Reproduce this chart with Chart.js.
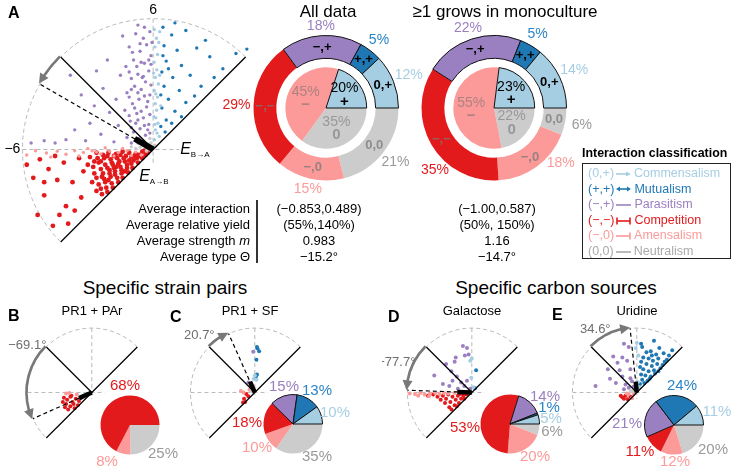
<!DOCTYPE html>
<html>
<head>
<meta charset="utf-8">
<script src="https://cdn.jsdelivr.net/npm/chart.js@4.4.1/dist/chart.umd.min.js"></script>
<style>
  body { margin: 0; background: #fff; font-family: 'Liberation Sans', Arial, sans-serif; color: #000; }
  #page { position: relative; width: 733px; height: 469px; overflow: hidden; }
  canvas { position: absolute; }
  .t { position: absolute; white-space: nowrap; line-height: 1; }
  #legend { position: absolute; left: 582px; top: 163px; width: 147px; height: 94px; border: 1.3px solid #222; }
  .row { position: absolute; left: 5px; font-size: 12.5px; white-space: nowrap; line-height: 1; }
  .row svg { display: inline-block; vertical-align: middle; margin: 0 3px 0 2px; }
</style>
</head>
<body>
<div id="page"></div>
<script>
// ---- data ----
const classCodes = ['(0,+)', '(+,+)', '(\u2212,+)', '(\u2212,\u2212)', '(\u2212,0)', '(0,0)'];
const classNames = ['Commensalism', 'Mutualism', 'Parasitism', 'Competition', 'Amensalism', 'Neutralism'];

// ring order (clockwise from 3 o'clock): 0,0 / -,0 / -,- / -,+ / +,+ / 0,+
const ringLabels = ['0,0', '\u2212,0', '\u2212,\u2212', '\u2212,+', '+,+', '0,+'];
const allDataRing = [21, 15, 29, 18, 5, 12];
const monoRing = [6, 18, 35, 22, 5, 14];
const pieLabels = ['0', '\u2212', '+'];
const allDataPie = [35, 45, 20];
const monoPie = [22, 55, 23];

const statNames = ['Average interaction', 'Average relative yield', 'Average strength <i>m</i>', 'Average type \u0398'];
const allDataStats = ['(\u22120.853,0.489)', '(55%,140%)', '0.983', '\u221215.2\u00b0'];
const monoStats = ['(\u22121.00,0.587)', '(50%, 150%)', '1.16', '\u221214.7\u00b0'];

// small pies, same order as ring
const pairPAr = [25, 8, 68, 0, 0, 0];
const pairSF = [35, 10, 18, 15, 13, 10];
const galactose = [6, 20, 53, 14, 1, 5];
const uridine = [20, 12, 11, 21, 24, 11];

// mean vectors: direction (deg) and strength
const meanAngles = { A: 150, B: 204, C: 114, D: 178, E: 96 };
const meanLengths = { A: 0.983, B: 1.3, C: 1.1, D: 1.35, E: 1.0 };
const thetaLabels = { A: '', B: '\u221269.1\u00b0', C: '20.7\u00b0', D: '\u221277.7\u00b0', E: '34.6\u00b0' };

// panel A points (E_B->A, E_A->B)
const aPurple = [[-0.15,5.4],[-0.45,5.1],[-0.8,5.3],[-0.3,4.8],[-1.1,4.7],[-0.6,4.5],[-0.1,4.3],[-0.9,4.1],[-0.4,3.95],[-1.25,3.8],[-0.2,3.6],[-0.7,3.45],[-1.0,3.25],[-0.35,3.1],[-0.85,2.9],[-0.55,2.75],[-1.2,2.6],[-0.15,2.5],[-0.65,2.3],[-0.95,2.1],[-0.3,1.95],[-1.3,1.8],[-0.75,1.65],[-0.45,1.45],[-1.05,1.3],[-0.2,1.15],[-0.6,0.95],[-0.9,0.8],[-0.35,0.65],[-1.2,0.55],[-0.55,4.0],[-0.25,2.2],[-1.5,3.4],[-1.7,2.3],[-1.6,1.1],[-2.1,4.1],[-2.3,2.8],[-2.0,1.7],[-2.7,2.0],[-2.9,1.2],[-2.4,0.7],[-3.3,2.5],[-3.6,0.9],[-3.1,0.4],[-4.0,0.45],[-4.5,0.3],[-5.0,0.4],[-5.6,0.3],[-1.8,0.35],[-1.0,0.3],[-1.4,5.2],[-3.8,3.4],[-0.7,5.7],[-2.6,3.6],[-0.5,3.3],[-0.1,3.9],[-0.8,1.2],[-1.1,2.4],[-0.4,5.6],[-0.25,0.9],
    [-0.05,4.9],[-0.6,4.85],[-0.95,4.45],[-0.2,4.1],[-0.75,3.8],[-1.1,3.55],[-0.45,3.35],[-0.1,2.95],[-0.7,2.6],[-1.0,2.75],[-0.4,2.45],[-0.85,1.9],[-0.55,1.75],[-1.1,1.55],[-0.15,1.6],[-0.7,1.35],[-0.4,1.1],[-1.0,1.0],[-0.15,0.75],[-0.65,0.5]];
const aLightBlue = [[0.05,5.5],[0.15,5.1],[0.08,4.7],[0.2,4.35],[0.04,4.0],[0.17,3.65],[0.1,3.3],[0.24,3.0],[0.05,2.7],[0.2,2.4],[0.1,2.1],[0.16,1.8],[0.04,1.5],[0.22,1.2],[0.1,0.9],[0.28,0.6],[0.06,0.45],[0.3,3.4],[0.26,4.9],[0.12,1.45],[0.35,2.0],[0.18,0.75],[0.3,5.4],[0.02,3.5],[0.12,2.55],[0.08,1.15]];
const aDarkBlue = [[0.45,5.6],[0.85,5.25],[1.5,5.45],[0.5,4.75],[1.1,4.55],[2.0,4.65],[0.6,4.05],[1.3,3.85],[2.6,4.25],[0.4,3.55],[0.9,3.3],[1.7,3.4],[3.2,3.7],[0.5,2.9],[1.2,2.7],[2.2,2.9],[0.7,2.3],[1.5,2.15],[0.4,1.9],[1.0,1.75],[0.6,1.35],[0.35,1.05],[0.85,1.2],[1.9,2.45],[2.8,3.3],[0.35,2.5],[0.45,4.3],[1.0,5.8],[2.4,5.0],[3.8,4.4],[0.7,3.7],[4.3,4.6],[0.55,0.8],[1.3,1.5]];
const aRed = [[-0.25,-0.15],[-0.5,-0.1],[-0.8,-0.2],[-1.1,-0.15],[-1.4,-0.1],[-1.7,-0.2],[-2.05,-0.15],[-2.3,-0.25],[-2.6,-0.15],
    [-0.5,-0.4],[-0.75,-0.4],[-1.0,-0.35],[-1.35,-0.4],[-1.65,-0.4],[-1.95,-0.45],[-2.25,-0.4],[-2.55,-0.4],[-2.9,-0.35],
    [-0.7,-0.6],[-1.0,-0.65],[-1.3,-0.55],[-1.6,-0.65],[-1.9,-0.6],[-2.2,-0.7],[-2.5,-0.6],
    [-0.95,-0.85],[-1.2,-0.85],[-1.5,-0.8],[-1.8,-0.85],[-2.1,-0.85],[-2.4,-0.9],[-2.75,-0.8],
    [-1.15,-1.05],[-1.45,-1.1],[-1.75,-1.0],[-2.0,-1.1],[-2.3,-1.1],
    [-1.4,-1.3],[-1.65,-1.3],[-1.95,-1.25],[-2.25,-1.35],[-2.6,-1.3],
    [-1.6,-1.5],[-1.9,-1.55],[-2.2,-1.5],[-2.5,-1.6],
    [-1.85,-1.75],[-2.15,-1.75],[-2.4,-1.8],
    [-2.1,-1.95],[-2.35,-2.05],
    [-0.35,-0.25],[-0.65,-0.25],[-0.9,-0.5],[-1.2,-0.7],[-1.5,-0.25],[-1.85,-0.7],[-1.1,-0.5],[-2.0,-0.95],[-1.3,-1.0],[-1.75,-1.15],
    [-0.4,-0.05],[-0.6,-0.3],[-0.85,-0.3],[-1.25,-0.3],[-1.55,-0.55],[-1.8,-0.3],[-2.1,-0.3],[-2.4,-0.55],[-2.7,-0.55],[-1.45,-0.95],[-1.7,-0.8],[-2.35,-1.25],[-2.05,-1.4],[-2.7,-1.1],[-2.8,-1.5],[-3.0,-0.7],[-3.2,-1.0],[-2.6,-1.9],
    [-4.1,-0.6],[-4.4,-1.4],[-4.8,-0.9],[-5.2,-0.45],[-5.5,-1.3],[-4.0,-2.6],[-4.6,-3.5],[-5.0,-2.1],[-4.3,-3.0],[-5.8,-0.7],[-3.9,-3.4],[-5.3,-3.0],[-4.5,-0.3],[-3.7,-1.5],[-3.6,-2.8],[-5.0,-1.5],[-3.4,-0.4],[-3.3,-2.2]];
const aPink = [[-0.3,-0.08],[-0.8,-0.12],[-1.2,-0.06],[-1.6,-0.14],[-2.0,-0.08],[-2.4,-0.2],[-2.8,-0.06],[-3.2,-0.14],[-3.6,-0.06],[-4.0,-0.22],[-4.4,-0.08],[-4.9,-0.16],[-5.4,-0.06],[-1.0,-0.28],[-1.8,-0.3],[-2.6,-0.12],[-3.4,-0.3],[-0.55,-0.25],[-5.8,-0.25],[-4.7,-0.35],[-1.4,0.05],[-3.0,0.04],[-0.1,-0.04],[-2.2,0.08]];
const aGray = [[-0.2,0.08],[-0.4,0.18],[-0.1,0.3],[-0.3,-0.04],[-0.6,0.1],[0.05,0.2],[-0.15,0.5],[-0.5,0.4],[-0.8,0.05],[-0.25,0.25],[0.12,0.16],[-0.7,0.28],[-1.0,0.12]];

// panel B: PR1 + PAr
const bRed = [[-2.6,-0.5],[-2.3,-0.7],[-2.0,-0.4],[-1.8,-0.9],[-1.5,-0.6],[-2.4,-1.1],[-2.0,-1.3],[-1.6,-1.5],[-1.2,-0.8],[-2.7,-0.9],[-1.9,-0.3],[-1.3,-1.2],[-2.2,-1.6],[-1.0,-0.5],[-2.5,-1.4],[-1.7,-1.1]];
const bPink = [[-2.1,-0.05],[-2.4,-0.1],[-1.4,-0.2]];
const bGray = [[-0.6,-0.2]];
// panel C: PR1 + SF
const cDarkBlue = [[0.2,4.3],[0.25,4.15],[0.15,3.1],[0.2,1.7],[0.1,1.5],[0.4,3.9]];
const cLightBlue = [[0.0,1.6],[-0.1,1.3],[0.15,1.2]];
const cPurple = [[-0.15,3.85],[-0.6,0.95],[-0.4,0.65]];
const cRed = [[-0.8,-0.15],[-1.0,-0.6],[-0.9,-0.9],[-0.6,-0.35],[-1.1,-0.95]];
const cPink = [[-1.3,0.15],[-1.05,0.0],[-0.5,0.25]];
const cGray = [[-0.3,0.15]];
// panel D: galactose
const dPurple = [[-0.83,4.4],[-0.45,4.2],[-0.3,3.6],[-0.65,3.5],[-1.5,3.3],[-1.6,2.9],[-2.4,2.7],[-3.5,1.6],[-1.9,2.0],[-1.4,1.5],[-1.8,1.1],[-2.7,0.8],[-1.0,0.95],[-0.7,0.6],[-1.3,0.35],[-2.1,0.6],[-0.45,1.1],[-0.15,0.35]];
const dLightBlue = [[0.0,3.2],[-0.05,1.4],[0.15,0.5],[-0.15,3.0]];
const dDarkBlue = [[0.4,2.1],[0.3,0.4]];
const dRed = [[-2.7,-0.3],[-2.4,-0.6],[-2.2,-0.2],[-2.0,-0.9],[-1.8,-0.4],[-1.6,-1.2],[-1.5,-0.7],[-1.3,-0.3],[-1.2,-1.0],[-1.0,-0.6],[-0.8,-0.3],[-0.7,-0.6],[-2.5,-1.0],[-2.1,-1.4],[-1.9,-1.6],[-1.4,-1.3],[-3.2,-0.4],[-3.6,-0.2],[-4.1,-0.3],[-2.9,-0.7],[-1.1,-0.15],[-0.5,-0.2]];
const dPink = [[-5.8,-0.1],[-5.3,-0.15],[-4.8,-0.05],[-4.4,-0.2],[-3.9,-0.1],[-3.4,-0.05],[-3.0,-0.15],[-2.6,-0.05],[-2.2,-0.1],[-1.6,-0.05],[-5.0,-0.3],[-4.0,-0.35]];
const dGray = [[-0.3,0.1],[-0.6,0.05]];
// panel E: uridine
const eDarkBlue = [[0.4,4.6],[0.5,4.3],[1.6,4.9],[2.1,4.2],[0.9,3.8],[1.3,3.9],[1.8,3.6],[2.5,3.7],[3.3,4.0],[0.6,3.3],[1.1,3.2],[1.5,3.0],[2.0,3.2],[2.8,3.1],[0.4,2.9],[0.9,2.7],[1.4,2.5],[1.9,2.7],[2.4,2.6],[0.6,2.2],[1.1,2.0],[1.6,2.1],[2.0,2.0],[0.4,1.7],[0.8,1.6],[1.3,1.5],[1.7,1.8],[0.5,1.2],[1.0,1.1],[0.3,0.8],[0.7,0.9],[1.2,1.3],[2.2,2.3],[3.0,3.5],[0.3,2.4],[1.4,3.5],[2.6,2.9]];
const eLightBlue = [[0.0,4.7],[-0.1,4.2],[0.15,3.5],[0.1,1.0],[0.2,0.5]];
const ePurple = [[-1.2,4.6],[-0.75,4.3],[-2.2,3.4],[-1.35,3.3],[-1.8,2.8],[-0.9,3.0],[-2.7,2.2],[-1.6,2.1],[-0.6,2.2],[-2.5,1.3],[-1.35,1.5],[-3.85,0.6],[-1.05,0.75],[-1.95,0.9],[-0.45,1.05],[-0.75,0.45],[-0.3,0.55],[-1.2,0.3],[-0.6,1.35]];
const eRed = [[-1.35,-0.45],[-1.05,-0.3],[-1.2,-0.6],[-0.85,-0.65],[-0.6,-0.4],[-1.5,-0.3]];
const ePink = [[-0.75,-0.15],[-0.45,-0.55],[-0.95,-0.1],[-0.3,-0.15]];
const eGray = [[-0.6,0.15],[-0.3,0.15],[-0.15,0.3]];

// ---- styling ----
const FONT = "'Liberation Sans', Arial, sans-serif";
Chart.defaults.font.family = FONT;
const C = { lblue: '#a6cee3', dblue: '#1f78b4', purple: '#9b80c1', red: '#e31a1c', pink: '#fb9a99', gray: '#cccccc' };
const ringColors = [C.gray, C.pink, C.red, C.purple, C.dblue, C.lblue];
const ringTextColors = ['#9a9a9a', C.pink, C.red, C.purple, '#2b84c6', C.lblue];
const legendColors = [C.lblue, C.dblue, C.purple, C.red, C.pink, '#aaaaaa'];

const page = document.getElementById('page');

function addCanvas(left, top, w, h) {
    const c = document.createElement('canvas');
    c.width = w; c.height = h;
    c.style.left = left + 'px'; c.style.top = top + 'px';
    c.style.width = w + 'px'; c.style.height = h + 'px';
    page.appendChild(c);
    return c;
}

function addText(html, x, y, align, css) {
    const d = document.createElement('div');
    d.className = 't';
    d.innerHTML = html;
    d.style.left = x + 'px';
    d.style.top = y + 'px';
    const tx = align === 'r' ? '-100%' : align === 'l' ? '0' : '-50%';
    d.style.transform = 'translate(' + tx + ',-50%)';
    d.style.cssText += css || '';
    page.appendChild(d);
    return d;
}

// polar frame drawn through the chart's own scales
function polarFrame(f) {
    const rad = d => d * Math.PI / 180;
    return {
        id: 'polarFrame',
        beforeDatasetsDraw(chart) {
            const { ctx, scales: { x, y } } = chart;
            const ox = x.getPixelForValue(0), oy = y.getPixelForValue(0);
            const k = x.getPixelForValue(1) - ox;
            const R = 6 * k;
            ctx.save();
            ctx.strokeStyle = '#b8b8b8';
            ctx.lineWidth = 1;
            ctx.setLineDash([4, 3]);
            ctx.beginPath();
            ctx.arc(ox, oy, R, -Math.PI / 4, -5 * Math.PI / 4, true);
            ctx.stroke();
            ctx.beginPath();
            ctx.moveTo(ox, oy - R); ctx.lineTo(ox, oy + 0.6 * k);
            ctx.moveTo(ox - R, oy); ctx.lineTo(ox + 1.2 * k, oy);
            ctx.stroke();
            ctx.restore();
        },
        afterDatasetsDraw(chart) {
            const { ctx, scales: { x, y } } = chart;
            const ox = x.getPixelForValue(0), oy = y.getPixelForValue(0);
            const k = x.getPixelForValue(1) - ox;
            const R = 6 * k;
            const pt = (deg, r) => [ox + r * k * Math.cos(rad(deg)), oy - r * k * Math.sin(rad(deg))];
            ctx.save();
            ctx.strokeStyle = '#000';
            ctx.lineWidth = f.lw;
            let p = pt(225, 6), q = pt(45, 6);
            ctx.beginPath(); ctx.moveTo(p[0], p[1]); ctx.lineTo(q[0], q[1]); ctx.stroke();
            const end = pt(135, 6);
            ctx.beginPath(); ctx.moveTo(ox, oy); ctx.lineTo(end[0], end[1]); ctx.stroke();
            const mEnd = pt(f.mean, 6);
            ctx.setLineDash([4, 3]);
            ctx.beginPath(); ctx.moveTo(ox, oy); ctx.lineTo(mEnd[0], mEnd[1]); ctx.stroke();
            ctx.setLineDash([]);
            const bar = pt(f.mean, f.len);
            ctx.lineWidth = f.bar;
            ctx.beginPath(); ctx.moveTo(ox, oy); ctx.lineTo(bar[0], bar[1]); ctx.stroke();

            // curved grey arrow from the perpendicular to the mean direction
            const dir = f.mean > 135 ? 1 : -1;
            const Ra = R + 1;
            const hl = 9 / Ra;
            const a1 = rad(f.mean);
            ctx.strokeStyle = '#787878';
            ctx.fillStyle = '#787878';
            ctx.lineWidth = 2.6;
            ctx.beginPath();
            ctx.arc(ox, oy, Ra, -rad(135), -(a1 - dir * hl), dir > 0);
            ctx.stroke();
            const tip = [ox + Ra * Math.cos(a1), oy - Ra * Math.sin(a1)];
            const ab = a1 - dir * hl * 1.1;
            const base = [ox + Ra * Math.cos(ab), oy - Ra * Math.sin(ab)];
            const dx = tip[0] - base[0], dy = tip[1] - base[1];
            const n = Math.hypot(dx, dy);
            const px = -dy / n * 5, py = dx / n * 5;
            ctx.beginPath();
            ctx.moveTo(tip[0], tip[1]);
            ctx.lineTo(base[0] + px, base[1] + py);
            ctx.lineTo(base[0] - px, base[1] - py);
            ctx.closePath();
            ctx.fill();

            ctx.textAlign = 'center';
            ctx.textBaseline = 'middle';
            if (f.label) {
                ctx.fillStyle = '#6e6e6e';
                ctx.font = '13px ' + FONT;
                ctx.fillText(f.label, end[0] + f.ldx, end[1] + f.ldy);
            }
            if (f.main) {
                ctx.fillStyle = '#000';
                ctx.font = '14px ' + FONT;
                ctx.fillText('6', ox, oy - R - 9);
                ctx.fillText('\u22126', ox - R - 10, oy);
                const drawE = (ex, ey, sub) => {
                    ctx.textAlign = 'left';
                    ctx.font = 'italic 16px ' + FONT;
                    ctx.fillText('E', ex, ey);
                    const w = ctx.measureText('E').width;
                    ctx.font = '8px ' + FONT;
                    ctx.fillText(sub, ex + w, ey + 5);
                };
                drawE(ox + 27, oy, 'B\u2192A');
                drawE(ox - 14, oy + 27, 'A\u2192B');
            }
            ctx.restore();
        }
    };
}

function makePolar(ox, oy, k, box, sets, f) {
    const cv = addCanvas(ox - box.l, oy - box.t, box.l + box.r, box.t + box.b);
    return new Chart(cv, {
        type: 'scatter',
        data: {
            datasets: sets.map(s => ({
                data: s[0].map(p => ({ x: p[0], y: p[1] })),
                backgroundColor: s[1],
                borderWidth: 0,
                pointRadius: s[2] || f.dot
            }))
        },
        options: {
            responsive: false,
            animation: false,
            events: [],
            layout: { padding: 0 },
            scales: {
                x: { display: false, min: -box.l / k, max: box.r / k },
                y: { display: false, min: -box.b / k, max: box.t / k }
            },
            plugins: { legend: { display: false }, tooltip: { enabled: false } }
        },
        plugins: [polarFrame(f)]
    });
}

function donutText(outer, pie, nudges) {
    return {
        id: 'donutText',
        afterDatasetsDraw(chart) {
            const ctx = chart.ctx;
            ctx.save();
            ctx.textAlign = 'center';
            ctx.textBaseline = 'middle';
            chart.getDatasetMeta(0).data.forEach((arc, i) => {
                const mid = (arc.startAngle + arc.endAngle) / 2;
                const ro = arc.outerRadius + 9 + 8 * Math.abs(Math.cos(mid));
                const rm = (arc.outerRadius + arc.innerRadius) / 2;
                const nd = nudges[i] || [0, 0];
                ctx.font = '14px ' + FONT;
                ctx.fillStyle = ringTextColors[i];
                ctx.fillText(outer[i] + '%', arc.x + Math.cos(mid) * ro + nd[0], arc.y + Math.sin(mid) * ro + nd[1]);
                ctx.font = 'bold 13px ' + FONT;
                ctx.fillStyle = i >= 3 ? '#000' : 'rgba(120,120,120,0.75)';
                ctx.fillText(ringLabels[i], arc.x + Math.cos(mid) * rm, arc.y + Math.sin(mid) * rm);
            });
            chart.getDatasetMeta(2).data.forEach((arc, i) => {
                const mid = (arc.startAngle + arc.endAngle) / 2;
                const rr = arc.outerRadius * 0.56;
                const tx = arc.x + Math.cos(mid) * rr, ty = arc.y + Math.sin(mid) * rr;
                ctx.fillStyle = i === 2 ? '#000' : 'rgba(110,110,110,0.55)';
                ctx.font = '14px ' + FONT;
                ctx.fillText(pie[i] + '%', tx, ty - 6);
                ctx.font = 'bold 15px ' + FONT;
                ctx.fillText(pieLabels[i], tx, ty + 7);
            });
            ctx.restore();
        }
    };
}

function makeDonut(cx, cy, ring, pie, nudges) {
    const W = 220, H = 200, R = 73;
    const cv = addCanvas(cx - W / 2, cy - H / 2, W, H);
    return new Chart(cv, {
        type: 'pie',
        data: {
            labels: ringLabels,
            datasets: [
                { data: ring, weight: 23, backgroundColor: ringColors, borderColor: '#111', borderWidth: [0, 0, 0, 1, 1, 1] },
                { data: [1], weight: 9, backgroundColor: 'rgba(0,0,0,0)', borderWidth: 0 },
                { data: pie, weight: 41, backgroundColor: [C.gray, C.pink, C.lblue], borderColor: '#111', borderWidth: [0, 0, 1] }
            ]
        },
        options: {
            responsive: false,
            animation: false,
            events: [],
            rotation: 90,
            layout: { padding: { left: W / 2 - R, right: W / 2 - R, top: H / 2 - R, bottom: H / 2 - R } },
            plugins: { legend: { display: false }, tooltip: { enabled: false } }
        },
        plugins: [donutText(ring, pie, nudges)]
    });
}

function pieText(values, offsets) {
    return {
        id: 'pieText',
        afterDatasetsDraw(chart) {
            const ctx = chart.ctx;
            const arc0 = chart.getDatasetMeta(0).data[0];
            ctx.save();
            ctx.textAlign = 'center';
            ctx.textBaseline = 'middle';
            ctx.font = '15px ' + FONT;
            values.forEach((v, i) => {
                if (!v) return;
                ctx.fillStyle = ringTextColors[i];
                ctx.fillText(v + '%', arc0.x + offsets[i][0], arc0.y + offsets[i][1]);
            });
            ctx.restore();
        }
    };
}

function makePie(cx, cy, values, offsets) {
    const W = 150, H = 110, r = 30;
    const cv = addCanvas(cx - W / 2, cy - H / 2, W, H);
    return new Chart(cv, {
        type: 'pie',
        data: {
            datasets: [{ data: values, backgroundColor: ringColors, borderColor: '#111', borderWidth: [0, 0, 0, 1, 1, 1] }]
        },
        options: {
            responsive: false,
            animation: false,
            events: [],
            rotation: 90,
            layout: { padding: { left: W / 2 - r, right: W / 2 - r, top: H / 2 - r, bottom: H / 2 - r } },
            plugins: { legend: { display: false }, tooltip: { enabled: false } }
        },
        plugins: [pieText(values, offsets)]
    });
}

// ---- panel A ----
makePolar(154, 150, 22.5, { l: 154, t: 150, r: 100, b: 115 }, [
    [aGray, C.gray], [aPink, C.pink], [aRed, C.red, 2.4], [aPurple, C.purple], [aLightBlue, C.lblue], [aDarkBlue, C.dblue]
], { lw: 1.3, bar: 6, mean: meanAngles.A, len: meanLengths.A, dot: 1.7, main: true, label: thetaLabels.A });

makeDonut(326, 108, allDataRing, allDataPie, {});
makeDonut(494, 108, monoRing, monoPie, { 1: [16, -15], 2: [17, 17] });

// ---- panels B to E ----
const smallBox = { l: 90, t: 76, r: 82, b: 58 };
const ks = 11.25;
makePolar(92, 393, ks, smallBox, [[bGray, C.gray], [bPink, C.pink], [bRed, C.red]],
    { lw: 1.2, bar: 4.5, mean: meanAngles.B, len: meanLengths.B, dot: 2, label: thetaLabels.B, ldx: -19, ldy: -2 });
makePolar(255, 393, ks, smallBox, [[cGray, C.gray], [cPink, C.pink], [cRed, C.red], [cPurple, C.purple], [cLightBlue, C.lblue], [cDarkBlue, C.dblue]],
    { lw: 1.2, bar: 4.5, mean: meanAngles.C, len: meanLengths.C, dot: 2, label: thetaLabels.C, ldx: -10, ldy: -12 });
makePolar(472, 393, ks, smallBox, [[dGray, C.gray], [dPink, C.pink], [dRed, C.red], [dPurple, C.purple], [dLightBlue, C.lblue], [dDarkBlue, C.dblue]],
    { lw: 1.2, bar: 4.5, mean: meanAngles.D, len: meanLengths.D, dot: 2, label: thetaLabels.D, ldx: -30, ldy: 15 });
makePolar(637, 393, ks, smallBox, [[eGray, C.gray], [ePink, C.pink], [eRed, C.red], [ePurple, C.purple], [eLightBlue, C.lblue], [eDarkBlue, C.dblue]],
    { lw: 1.2, bar: 4.5, mean: meanAngles.E, len: meanLengths.E, dot: 2, label: thetaLabels.E, ldx: 4, ldy: -18 });

makePie(130, 425, pairPAr, [[33, 29], [-23, 37], [-5, -39], [0, 0], [0, 0], [0, 0]]);
makePie(293, 424, pairSF, [[24, 33], [-36, 24], [-46, -1], [-9, -37], [24, -33], [42, -11]]);
makePie(510, 424, galactose, [[42, 8], [25, 33], [-45, 4], [35, -27], [39, -16], [41, -5]]);
makePie(674, 425, uridine, [[39, 25], [1, 37], [-34, 27], [-47, -1], [8, -39], [43, -13]]);

// ---- text ----
addText('A', 8, 13, 'l', 'font-size:16px;font-weight:bold;');
addText('All data', 328, 11, 'c', 'font-size:17px;');
addText('\u22651 grows in monoculture', 505, 11, 'c', 'font-size:17px;');

statNames.forEach((s, i) => {
    const y = 208 + i * 16;
    addText(s, 250, y, 'r', 'font-size:13px;');
    addText(allDataStats[i], 319, y, 'c', 'font-size:13px;');
    addText(monoStats[i], 497, y, 'c', 'font-size:13px;');
});
const bar = document.createElement('div');
bar.style.cssText = 'position:absolute;left:256px;top:200px;width:1.5px;height:63px;background:#333;';
page.appendChild(bar);

addText('Interaction classification', 582, 153, 'l', 'font-size:12.4px;font-weight:bold;');
const legend = document.createElement('div');
legend.id = 'legend';
page.appendChild(legend);
const glyphs = [
    '<line x1="0" y1="5" x2="11" y2="5"/><path d="M15 5 L10 2.5 L10 7.5Z" stroke="none"/>',
    '<line x1="3" y1="5" x2="12" y2="5"/><path d="M15 5 L11 2.5 L11 7.5Z M0 5 L4 2.5 L4 7.5Z" stroke="none"/>',
    '<line x1="0" y1="5" x2="15" y2="5"/>',
    '<line x1="1" y1="5" x2="14" y2="5"/><line x1="1" y1="1.5" x2="1" y2="8.5"/><line x1="14" y1="1.5" x2="14" y2="8.5"/>',
    '<line x1="0" y1="5" x2="14" y2="5"/><line x1="14" y1="1.5" x2="14" y2="8.5"/>',
    '<line x1="0" y1="5" x2="15" y2="5"/>'
];
classCodes.forEach((code, i) => {
    const row = document.createElement('div');
    row.className = 'row';
    row.style.top = (3 + i * 15.6) + 'px';
    row.style.color = legendColors[i];
    row.innerHTML = code + '<svg width="15" height="10" fill="' + legendColors[i] + '" stroke="' + legendColors[i] +
        '" stroke-width="1.6">' + glyphs[i] + '</svg>' + classNames[i];
    legend.appendChild(row);
});

addText('Specific strain pairs', 165, 287, 'c', 'font-size:19px;');
addText('Specific carbon sources', 556, 287, 'c', 'font-size:19px;');
addText('B', 8, 316, 'l', 'font-size:16px;font-weight:bold;');
addText('C', 170, 317, 'l', 'font-size:16px;font-weight:bold;');
addText('D', 388, 317, 'l', 'font-size:16px;font-weight:bold;');
addText('E', 552, 315, 'l', 'font-size:16px;font-weight:bold;');
addText('PR1 + PAr', 92, 310, 'c', 'font-size:13px;');
addText('PR1 + SF', 250, 310, 'c', 'font-size:13px;');
addText('Galactose', 472, 310, 'c', 'font-size:13px;');
addText('Uridine', 637, 310, 'c', 'font-size:13px;');
</script>
</body>
</html>
